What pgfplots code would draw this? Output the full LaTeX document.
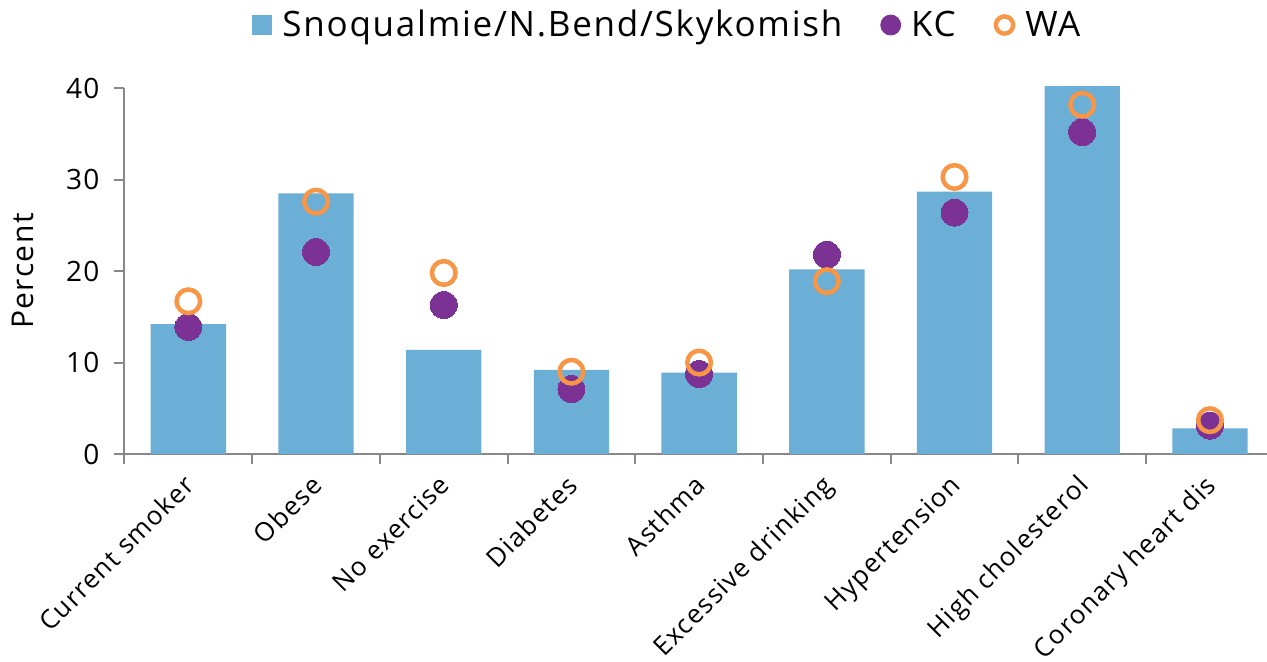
\documentclass[border=0pt]{standalone}
\usepackage{pgfplots}
\pgfplotsset{compat=1.18}
\usepackage{fontspec}
\setmainfont{Open Sans}[LetterSpace=5]
\definecolor{barblue}{RGB}{107,174,214}
\definecolor{kcpurple}{RGB}{123,50,148}
\definecolor{waorange}{RGB}{247,150,70}
\definecolor{axgray}{RGB}{136,136,136}
\begin{document}
\begin{tikzpicture}
\useasboundingbox (-62.25pt,-104pt) rectangle (571.25pt,227pt);
\begin{axis}[
  at={(0,0)}, anchor=south west,
  scale only axis, width=571.25pt, height=182.85pt,
  xmin=-0.5, xmax=8.447, ymin=0, ymax=40,
  clip=false,
  axis x line*=bottom, axis y line*=left,
  axis line style={draw=axgray, line width=1pt},
  every tick/.style={draw=axgray, line width=1pt},
  tick align=outside,
  xtick={0,1,2,3,4,5,6,7,8},
  major x tick style={draw=none},
  minor xtick={-0.5,0.5,1.5,2.5,3.5,4.5,5.5,6.5,7.5},
  minor tick length=5pt,
  major tick length=5pt,
  ytick={0,10,20,30,40},
  xticklabels={Current smoker,Obese,No exercise,Diabetes,Asthma,Excessive drinking,Hypertension,High cholesterol,Coronary heart dis},
  xticklabel style={rotate=45, anchor=north east, font=\fontsize{13pt}{16pt}\selectfont, xshift=-2pt, yshift=2.5pt},
  yticklabel style={font=\fontsize{14pt}{16pt}\selectfont, xshift=-4pt},
  /pgf/number format/assume math mode=true,
  ylabel={Percent},
  ylabel style={at={(axis description cs:-0.0888,0.5)}, anchor=center, font=\fontsize{15pt}{18pt}\selectfont},
  legend columns=3,
  legend style={at={(axis description cs:0.476,1.173)}, anchor=center, draw=none, fill=none,
    font=\fontsize{17.5pt}{20pt}\selectfont,
    /tikz/every odd column/.append style={column sep=3pt},
    /tikz/every even column/.append style={column sep=17pt}},
]
\addplot[ybar, bar width=0.59, fill=barblue, draw=none, bar shift=0pt,
  legend image code/.code={\fill[barblue] (0pt,-5pt) rectangle (10pt,5pt);}]
  coordinates {(0,14.2) (1,28.5) (2,11.4) (3,9.2) (4,8.9) (5,20.2) (6,28.7) (7,40.25) (8,2.8)};
\addlegendentry{Snoqualmie/N.Bend/Skykomish}
\addplot[only marks, color=kcpurple, mark=*, mark size=6.75pt, mark options={fill=kcpurple, draw=kcpurple, line width=0pt},
  legend image code/.code={\fill[kcpurple] (5pt,0pt) circle (5pt);}]
  coordinates {(0,13.9) (1,22.1) (2,16.3) (3,7.1) (4,8.75) (5,21.8) (6,26.4) (7,35.2) (8,3.1)};
\addlegendentry{KC}
\addplot[only marks, color=waorange, mark=o, mark size=5.9pt, mark options={draw=waorange, line width=2.25pt, fill=none},
  legend image code/.code={\draw[waorange, line width=2.2pt] (5pt,0pt) circle (4.3pt);}]
  coordinates {(0,16.7) (1,27.6) (2,19.8) (3,9.0) (4,10.0) (5,18.9) (6,30.3) (7,38.2) (8,3.7)};
\addlegendentry{WA}
\end{axis}
\end{tikzpicture}
\end{document}
